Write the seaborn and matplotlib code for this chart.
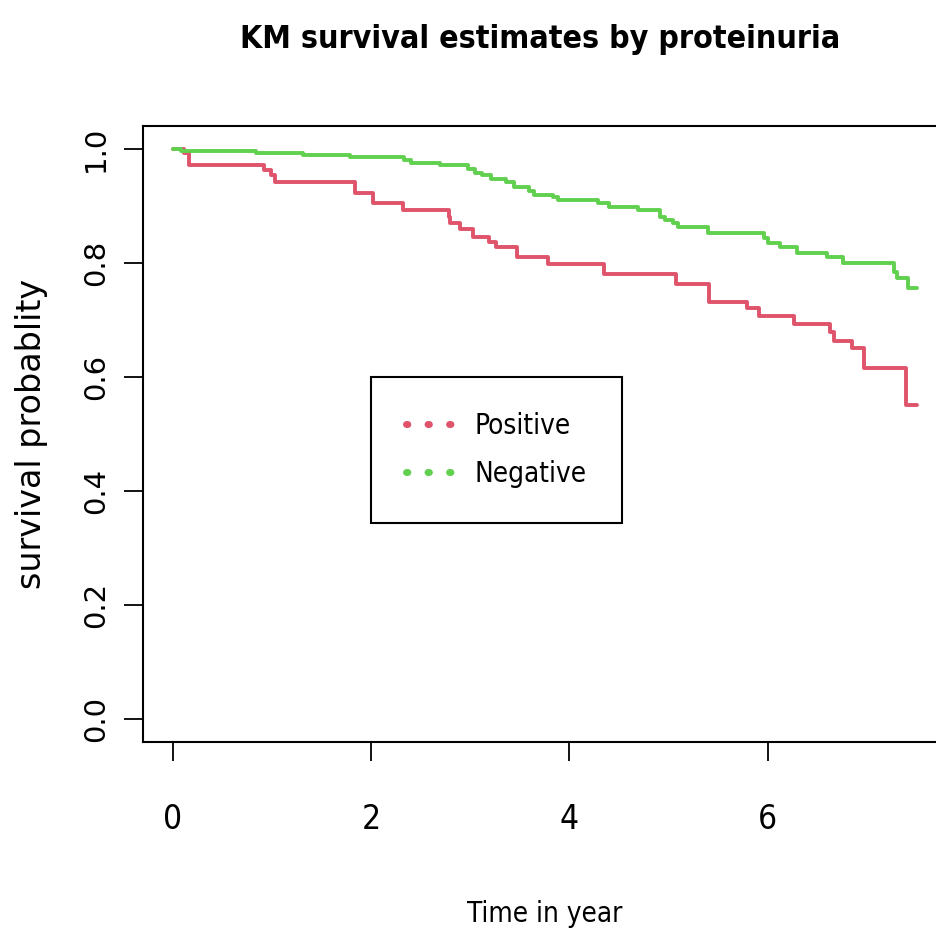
import numpy as np
import pandas as pd
import matplotlib
matplotlib.use("Agg")
import matplotlib.pyplot as plt
from matplotlib.lines import Line2D
import seaborn as sns

# Positive (red) step curve
pos_time = [0.0, 0.11, 0.16, 0.92, 0.99, 1.03, 1.84, 2.02, 2.32, 2.79, 2.80, 2.90, 3.03, 3.19,
            3.26, 3.47, 3.78, 4.35, 5.08, 5.41, 5.79, 5.91, 6.27, 6.63, 6.67, 6.85, 6.97, 7.40, 7.51]
pos_surv = [1.0, 0.993, 0.972, 0.963, 0.954, 0.942, 0.923, 0.905, 0.893, 0.880, 0.870, 0.860, 0.846, 0.837,
            0.828, 0.811, 0.798, 0.781, 0.763, 0.732, 0.721, 0.707, 0.693, 0.679, 0.663, 0.651, 0.616, 0.551, 0.551]
# Negative (green) step curve
neg_time = [0.0, 0.08, 0.84, 1.31, 1.79, 2.33, 2.40, 2.70, 2.98, 3.05, 3.12, 3.21, 3.36, 3.44, 3.59,
            3.64, 3.84, 3.89, 4.29, 4.40, 4.69, 4.91, 4.97, 5.05, 5.10, 5.40, 5.96, 6.00, 6.13, 6.30,
            6.60, 6.76, 7.27, 7.31, 7.42, 7.51]
neg_surv = [1.0, 0.996, 0.993, 0.989, 0.986, 0.981, 0.976, 0.972, 0.965, 0.958, 0.954, 0.947, 0.942, 0.933, 0.926,
            0.919, 0.916, 0.911, 0.905, 0.898, 0.893, 0.881, 0.875, 0.870, 0.863, 0.853, 0.844, 0.835, 0.828, 0.818,
            0.811, 0.800, 0.784, 0.774, 0.756, 0.756]
groups = ["Positive", "Negative"]
colors = ["#DF536B", "#61D04F"]
x_ticks = [0, 2, 4, 6]
y_ticks = [0.0, 0.2, 0.4, 0.6, 0.8, 1.0]

df = pd.concat([
    pd.DataFrame({"time": pos_time, "surv": pos_surv, "group": groups[0]}),
    pd.DataFrame({"time": neg_time, "surv": neg_surv, "group": groups[1]}),
])

sns.set_style("white")
plt.rcParams["font.family"] = ["DejaVu Sans"]
for k in ["text.color", "axes.labelcolor", "xtick.color", "ytick.color", "axes.edgecolor"]:
    plt.rcParams[k] = "black"

narrow_fp = dict(family=["DejaVu Sans"], stretch="condensed")
wide_fp = dict(family=["DejaVu Sans"])

fig = plt.figure(figsize=(9.36, 9.33), dpi=100)
ax = fig.add_axes([0.1528, 0.2047, 0.859, 0.660])

sns.lineplot(data=df, x="time", y="surv", hue="group", palette=dict(zip(groups, colors)),
             estimator=None, sort=False, drawstyle="steps-post", linewidth=2.8, ax=ax, legend=False)

ax.set_xlim(-0.30, 7.81)
ax.set_ylim(-0.04, 1.04)
ax.set_xticks(x_ticks)
ax.set_xticklabels([str(t) for t in x_ticks], fontsize=24, **narrow_fp)
ax.set_yticks(y_ticks)
ax.set_yticklabels([f"{t:.1f}" for t in y_ticks], fontsize=21,
                   rotation=90, va="center", **wide_fp)
ax.tick_params(axis="both", direction="out", length=14, width=1.3, color="black",
               left=True, bottom=True)
ax.tick_params(axis="x", pad=30)
ax.tick_params(axis="y", pad=10)
for s in ax.spines.values():
    s.set_color("black")
    s.set_linewidth(1.5)

ax.set_xlabel("Time in year", fontsize=20, labelpad=46, **narrow_fp)
ax.set_ylabel("survival probablity", fontsize=24, labelpad=24, **wide_fp)
fig.text(0.577, 0.958, "KM survival estimates by proteinuria", fontsize=23,
         fontweight="bold", ha="center", va="center", **narrow_fp)

handles = [Line2D([0], [0], color=c, linestyle=(0, (0.2, 2.9)), linewidth=5,
                  dash_capstyle="round") for c in colors]
leg = ax.legend(handles, groups, loc="upper left", bbox_to_anchor=(0.2836, 0.5925),
                borderaxespad=0, fancybox=False, edgecolor="black", framealpha=1,
                prop=dict(size=20, **narrow_fp), handlelength=1.63, handletextpad=0.85,
                borderpad=1.25, labelspacing=0.72)
leg.get_frame().set_linewidth(1.5)

fig.savefig("out.png", dpi=100)
